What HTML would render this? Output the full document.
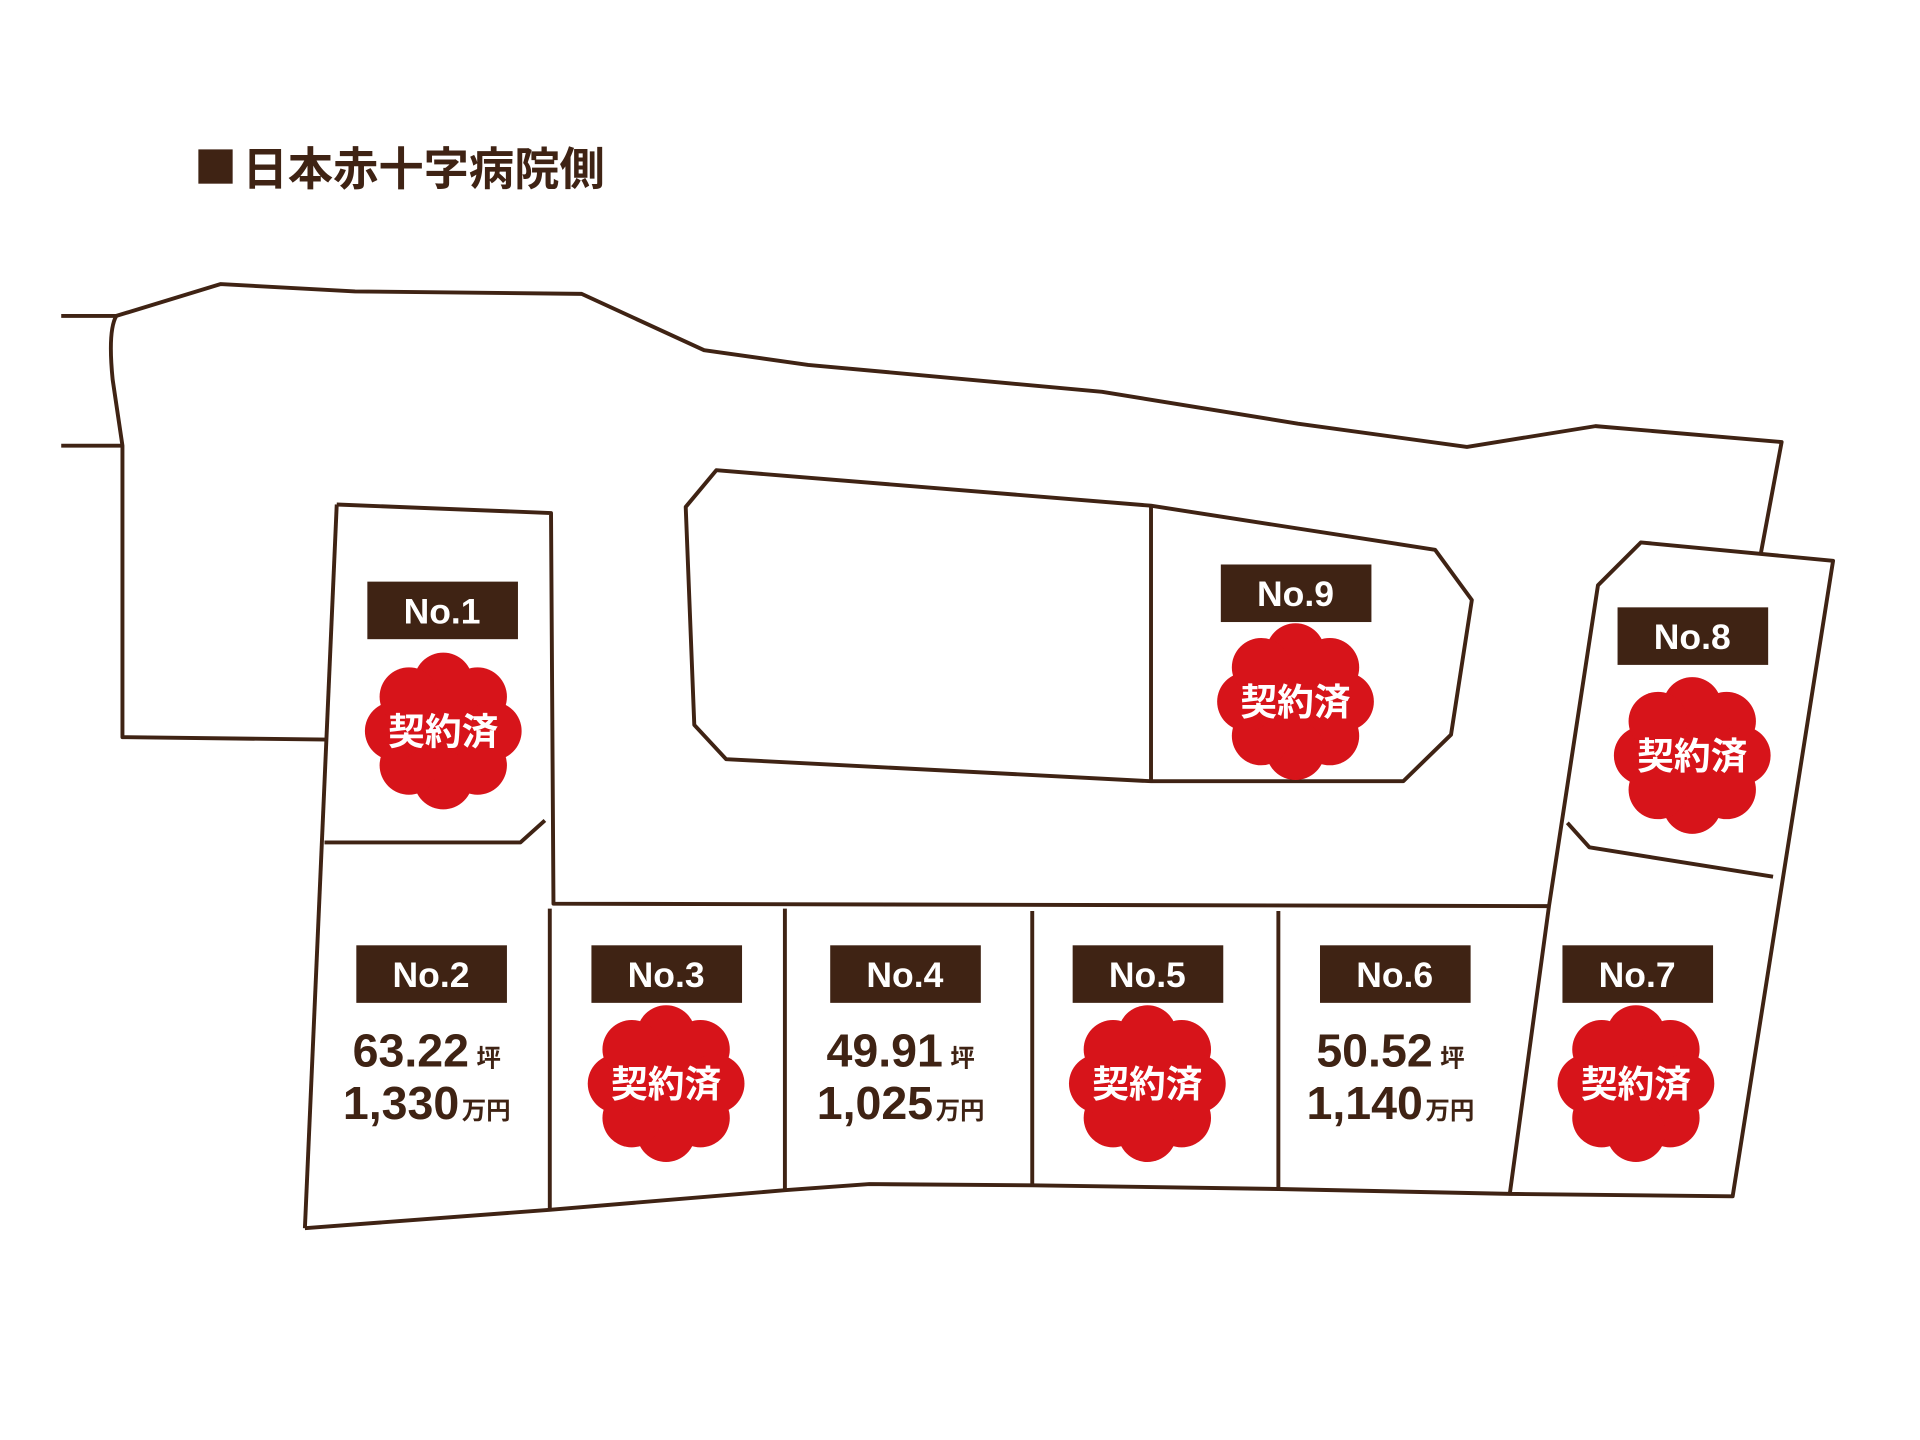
<!DOCTYPE html>
<html><head><meta charset="utf-8"><style>
html,body{margin:0;padding:0;background:#fff;}
svg{display:block;}
text{font-family:"Liberation Sans","Noto Sans CJK JP",sans-serif;font-weight:bold;}
</style></head><body>
<svg width="1920" height="1440" viewBox="0 0 1568 1176" preserveAspectRatio="none" xmlns="http://www.w3.org/2000/svg">
<defs>
<g id="stamp">
<circle r="44" fill="#d7141a"/>
<g fill="#d7141a">
<circle cx="0" cy="-40" r="24"/><circle cx="28" cy="-28" r="24"/><circle cx="40" cy="0" r="24"/><circle cx="28" cy="28" r="24"/>
<circle cx="0" cy="40" r="24"/><circle cx="-28" cy="28" r="24"/><circle cx="-40" cy="0" r="24"/><circle cx="-28" cy="-28" r="24"/>
</g>
<text x="0" y="11" text-anchor="middle" font-size="30" fill="#fff">契約済</text>
</g>
</defs>
<g fill="none" stroke="#3f2314" stroke-width="3.2" stroke-linejoin="round">
<polyline points="50,258 95,258 180,232 290,238 475,240 575,286 660,298 900,320 1060,346 1198,365 1303,348 1455,361 1438,452"/>
<path d="M95,258 Q88,270 92,310 L100,364 L100,602 L267,604"/>
<line x1="50" y1="364" x2="100" y2="364"/>
<polyline points="275,412 450,419 452,738 1265,740"/>
<line x1="275" y1="412" x2="249" y2="1003"/>
<polyline points="265,688 425,688 445,670"/>
<polyline points="249,1003 449,988 641,972 710,967 843,968 1044,971 1233,975 1415,977 1497,458 1340,443 1305,478 1265,740 1233,975"/>
<polyline points="1280,672 1298,692 1448,716"/>
<line x1="449" y1="742" x2="449" y2="988"/>
<line x1="641" y1="742" x2="641" y2="972"/>
<line x1="843" y1="744" x2="843" y2="968"/>
<line x1="1044" y1="744" x2="1044" y2="971"/>
<polygon points="585,384 940,413 1172,449 1202,490 1185,600 1146,638 940,638 593,620 567,592 560,414"/>
<line x1="940" y1="413" x2="940" y2="638"/>
</g>
<rect x="162" y="122" width="28" height="28" fill="#3f2314"/>
<text x="198" y="151" font-size="37" fill="#3f2314">日本赤十字病院側</text>
<g fill="#3f2314">
<rect x="300" y="475" width="123" height="47"/>
<rect x="997" y="461" width="123" height="47"/>
<rect x="1321" y="496" width="123" height="47"/>
<rect x="291" y="772" width="123" height="47"/>
<rect x="483" y="772" width="123" height="47"/>
<rect x="678" y="772" width="123" height="47"/>
<rect x="876" y="772" width="123" height="47"/>
<rect x="1078" y="772" width="123" height="47"/>
<rect x="1276" y="772" width="123" height="47"/>
</g>
<g fill="#fff" font-size="29" text-anchor="middle">
<text x="361" y="509">No.1</text>
<text x="1058" y="495">No.9</text>
<text x="1382" y="530">No.8</text>
<text x="352" y="806">No.2</text>
<text x="544" y="806">No.3</text>
<text x="739" y="806">No.4</text>
<text x="937" y="806">No.5</text>
<text x="1139" y="806">No.6</text>
<text x="1337" y="806">No.7</text>
</g>
<use href="#stamp" x="362" y="597"/>
<use href="#stamp" x="1058" y="573"/>
<use href="#stamp" x="1382" y="617"/>
<use href="#stamp" x="544" y="885"/>
<use href="#stamp" x="937" y="885"/>
<use href="#stamp" x="1336" y="885"/>
<g fill="#3f2314">
<text x="288" y="871" font-size="38">63.22<tspan font-size="20" dx="6">坪</tspan></text>
<text x="280" y="914" font-size="38">1,330<tspan font-size="20" dx="2">万円</tspan></text>
<text x="675" y="871" font-size="38">49.91<tspan font-size="20" dx="6">坪</tspan></text>
<text x="667" y="914" font-size="38">1,025<tspan font-size="20" dx="2">万円</tspan></text>
<text x="1075" y="871" font-size="38">50.52<tspan font-size="20" dx="6">坪</tspan></text>
<text x="1067" y="914" font-size="38">1,140<tspan font-size="20" dx="2">万円</tspan></text>
</g>
</svg>
</body></html>
